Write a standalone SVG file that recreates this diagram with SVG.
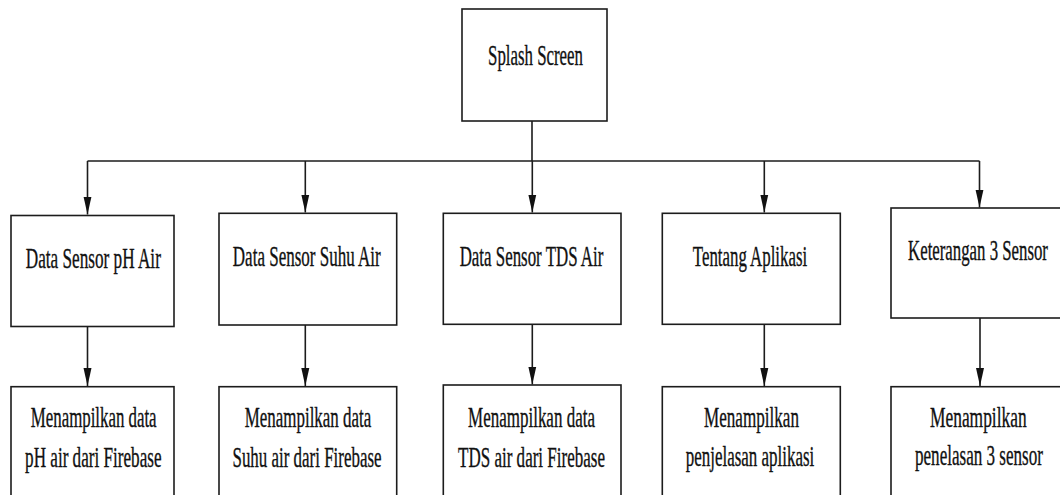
<svg xmlns="http://www.w3.org/2000/svg" width="1060" height="495" viewBox="0 0 1060 495">
<defs>
<marker id="arr" markerUnits="userSpaceOnUse" markerWidth="20" markerHeight="10" viewBox="0 0 20 10" refX="18" refY="5" orient="auto">
<path d="M0,1 L18,5 L0,9 Z" fill="#111"/>
</marker>
<style>
.box{fill:#fff;stroke:#1c1c1c;stroke-width:1.6}
.t{font-family:"Liberation Serif","Times New Roman",serif;font-size:29px;fill:#111;stroke:#111;stroke-width:0.35;text-anchor:middle}
.c{fill:none;stroke:#1c1c1c;stroke-width:1.6}
</style>
</defs>
<rect width="1060" height="495" fill="#fff"/>
<g id="connectors">
<path class="c" d="M532,121 V161 M87.5,161 H979.5"/>
<line class="c" x1="87.5" y1="161" x2="87.5" y2="214.5" marker-end="url(#arr)"/>
<line class="c" x1="305.3" y1="161" x2="305.3" y2="212.5" marker-end="url(#arr)"/>
<line class="c" x1="532.3" y1="161" x2="532.3" y2="212.5" marker-end="url(#arr)"/>
<line class="c" x1="764.3" y1="161" x2="764.3" y2="212.5" marker-end="url(#arr)"/>
<line class="c" x1="979.5" y1="161" x2="979.5" y2="207.5" marker-end="url(#arr)"/>
<line class="c" x1="87.5" y1="327" x2="87.5" y2="386" marker-end="url(#arr)"/>
<line class="c" x1="305.3" y1="325" x2="305.3" y2="386" marker-end="url(#arr)"/>
<line class="c" x1="532.3" y1="324.5" x2="532.3" y2="384.5" marker-end="url(#arr)"/>
<line class="c" x1="764.3" y1="324.5" x2="764.3" y2="386" marker-end="url(#arr)"/>
<line class="c" x1="980" y1="318" x2="980" y2="386" marker-end="url(#arr)"/>
</g>
<g id="splash">
<rect class="box" x="462" y="9" width="145" height="112"/>
<text class="t" transform="translate(535.5,65) scale(0.581,1)">Splash Screen</text>
</g>
<g id="ph">
<rect class="box" x="11" y="215.5" width="163" height="111"/>
<text class="t" transform="translate(93.3,268) scale(0.593,1)">Data Sensor pH Air</text>
</g>
<g id="suhu">
<rect class="box" x="219" y="213.3" width="177.7" height="111.7"/>
<text class="t" transform="translate(306.8,266) scale(0.587,1)">Data Sensor Suhu Air</text>
</g>
<g id="tds">
<rect class="box" x="443.3" y="213.3" width="177.7" height="111"/>
<text class="t" transform="translate(531.5,266) scale(0.583,1)">Data Sensor TDS Air</text>
</g>
<g id="tentang">
<rect class="box" x="662.3" y="213.3" width="178" height="111"/>
<text class="t" transform="translate(750,266) scale(0.581,1)">Tentang Aplikasi</text>
</g>
<g id="keterangan">
<rect class="box" x="891" y="208" width="175" height="110"/>
<text class="t" transform="translate(978,260) scale(0.579,1)">Keterangan 3 Sensor</text>
</g>
<g id="ph-data">
<rect class="box" x="11" y="386.7" width="163" height="130"/>
<text class="t" transform="translate(93.7,427.3) scale(0.581,1)">Menampilkan data</text>
<text class="t" transform="translate(93.3,467) scale(0.591,1)">pH air dari Firebase</text>
</g>
<g id="suhu-data">
<rect class="box" x="219" y="386.7" width="177.7" height="130"/>
<text class="t" transform="translate(308,427.3) scale(0.584,1)">Menampilkan data</text>
<text class="t" transform="translate(307,467) scale(0.584,1)">Suhu air dari Firebase</text>
</g>
<g id="tds-data">
<rect class="box" x="443.3" y="385" width="177.7" height="130"/>
<text class="t" transform="translate(531.5,427) scale(0.586,1)">Menampilkan data</text>
<text class="t" transform="translate(531.5,466.5) scale(0.587,1)">TDS air dari Firebase</text>
</g>
<g id="tentang-data">
<rect class="box" x="662.3" y="386.7" width="178" height="130"/>
<text class="t" transform="translate(751.5,427) scale(0.59,1)">Menampilkan</text>
<text class="t" transform="translate(750,466) scale(0.585,1)">penjelasan aplikasi</text>
</g>
<g id="keterangan-data">
<rect class="box" x="891" y="386.7" width="175" height="130"/>
<text class="t" transform="translate(978.3,426.7) scale(0.6,1)">Menampilkan</text>
<text class="t" transform="translate(979,465) scale(0.589,1)">penelasan 3 sensor</text>
</g>
</svg>
